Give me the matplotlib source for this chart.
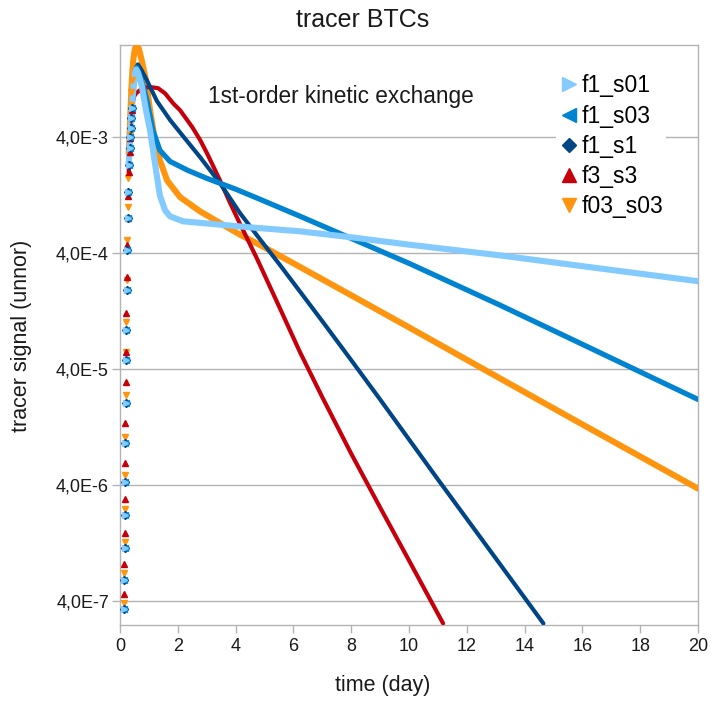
import matplotlib
matplotlib.use("Agg")
import matplotlib.pyplot as plt
import numpy as np

plt.rcParams['font.family'] = ['Liberation Sans', 'DejaVu Sans']

# early rising limb, shared by the three f1 runs
t_rise = [0.14, 0.15, 0.16, 0.17, 0.18, 0.19, 0.20, 0.21, 0.22, 0.23, 0.24,
          0.26, 0.28, 0.30, 0.33, 0.35, 0.37, 0.39, 0.41, 0.43, 0.46, 0.49]
f1_rise = [3.41e-7, 6.07e-7, 1.15e-6, 2.20e-6, 4.25e-6, 9.2e-6, 2.04e-5, 4.78e-5,
           8.67e-5, 1.92e-4, 4.25e-4, 8.0e-4, 1.34e-3, 2.30e-3, 3.21e-3, 4.0e-3,
           4.79e-3, 5.84e-3, 7.11e-3, 8.34e-3, 1.02e-2, 1.24e-2]

# f1_s01
t_s01 = [0.52, 0.56, 0.62, 0.75, 0.9, 1.04, 1.21, 1.38, 1.56, 1.73, 2.18, 3.1,
         4.5, 6.23, 8.0, 10.0, 13.15, 16.0, 20.0]
v_s01 = [1.45e-2, 1.54e-2, 1.45e-2, 1.12e-2, 6.84e-3, 4.59e-3, 2.39e-3, 1.26e-3,
         9.4e-4, 8.34e-4, 7.55e-4, 7.2e-4, 6.7e-4, 6.19e-4, 5.5e-4, 4.75e-4,
         3.84e-4, 3.1e-4, 2.30e-4]

# f1_s03
t_s03 = [0.52, 0.58, 0.65, 0.8, 0.93, 1.14, 1.38, 1.73, 2.34, 3.01, 4.0, 4.84,
         6.23, 8.0, 10.0, 13.15, 16.0, 20.0]
v_s03 = [1.48e-2, 1.60e-2, 1.45e-2, 1.12e-2, 8.34e-3, 4.59e-3, 3.09e-3, 2.48e-3,
         2.08e-3, 1.77e-3, 1.43e-3, 1.17e-3, 8.35e-4, 5.38e-4, 3.28e-4, 1.43e-4,
         6.57e-5, 2.2e-5]

# f1_s1
t_s1 = [0.52, 0.56, 0.62, 0.75, 0.93, 1.28, 1.73, 2.18, 2.77, 3.46, 4.15, 4.84,
        5.54, 6.23, 7.0, 8.0, 9.0, 11.0, 13.0, 14.65]
v_s1 = [1.43e-2, 1.60e-2, 1.70e-2, 1.51e-2, 1.24e-2, 8.2e-3, 5.65e-3, 4.1e-3,
        2.7e-3, 1.61e-3, 8.9e-4, 5.3e-4, 3.16e-4, 1.87e-4, 1.04e-4, 4.8e-5,
        2.2e-5, 4.5e-6, 9.4e-7, 2.58e-7]

# f3_s3
t_f3 = [0.14, 0.15, 0.16, 0.17, 0.18, 0.19, 0.20, 0.21, 0.22, 0.23, 0.24, 0.26,
        0.28, 0.30, 0.33, 0.35, 0.37, 0.39, 0.41, 0.43, 0.46, 0.49, 0.55, 0.69,
        0.94, 1.11, 1.32, 1.56, 1.84, 2.08, 2.5, 2.77, 3.0, 3.22, 3.46, 3.8,
        4.15, 4.74, 5.5, 6.23, 7.0, 8.0, 9.0, 10.0, 11.18]
v_f3 = [4.59e-7, 8.34e-7, 1.54e-6, 3.03e-6, 6.19e-6, 1.37e-5, 3.09e-5, 5.61e-5,
        1.22e-4, 2.48e-4, 4.69e-4, 8.0e-4, 1.26e-3, 2.0e-3, 2.97e-3, 3.97e-3,
        4.98e-3, 5.94e-3, 6.84e-3, 7.69e-3, 8.34e-3, 9.02e-3, 9.57e-3, 1.02e-2,
        1.08e-2, 1.08e-2, 1.06e-2, 9.57e-3, 7.85e-3, 6.84e-3, 4.9e-3, 3.8e-3,
        2.95e-3, 2.27e-3, 1.70e-3, 1.10e-3, 7.2e-4, 3.6e-4, 1.40e-4, 5.61e-5,
        2.30e-5, 7.5e-6, 2.58e-6, 9.0e-7, 2.58e-7]

# f03_s03
t_f03 = [0.14, 0.15, 0.16, 0.17, 0.18, 0.19, 0.20, 0.21, 0.22, 0.23, 0.24, 0.26,
         0.28, 0.30, 0.33, 0.35, 0.37, 0.39, 0.41, 0.43, 0.46, 0.49, 0.52, 0.58,
         0.65, 0.75, 0.9, 1.04, 1.21, 1.38, 1.63, 2.08, 2.77, 4.15, 5.0, 6.23,
         8.0, 10.0, 13.15, 16.0, 20.0]
v_f03 = [3.85e-7, 6.97e-7, 1.29e-6, 2.48e-6, 4.88e-6, 1.04e-5, 2.39e-5, 5.61e-5,
         1.02e-4, 2.34e-4, 5.18e-4, 9.97e-4, 1.77e-3, 2.91e-3, 4.16e-3, 5.61e-3,
         7.55e-3, 9.77e-3, 1.24e-2, 1.51e-2, 1.85e-2, 2.12e-2, 2.34e-2, 2.43e-2,
         2.34e-2, 1.85e-2, 1.24e-2, 6.84e-3, 3.77e-3, 2.54e-3, 1.70e-3, 1.22e-3,
         9.2e-4, 5.8e-4, 4.5e-4, 3.05e-4, 1.74e-4, 9.2e-5, 3.34e-5, 1.34e-5,
         3.75e-6]

names = ['f1_s01', 'f1_s03', 'f1_s1', 'f3_s3', 'f03_s03']
colors = ['#83caff', '#0084d1', '#004586', '#c5000b', '#ff950e']
markers = ['>', '<', 'D', '^', 'v']
widths = [4.4, 3.8, 3.0, 3.0, 4.4]

yticks = [4e-7, 4e-6, 4e-5, 4e-4, 4e-3]
ylabels = ['4,0E-7', '4,0E-6', '4,0E-5', '4,0E-4', '4,0E-3']
xticks = list(range(0, 21, 2))

series = [
    (t_rise + t_s01, f1_rise + v_s01),
    (t_rise + t_s03, f1_rise + v_s03),
    (t_rise + t_s1, f1_rise + v_s1),
    (t_f3, v_f3),
    (t_f03, v_f03),
]

fig = plt.figure(figsize=(7.12, 7.02), dpi=100)
ax = fig.add_axes([120 / 712, 1 - 625 / 702, 578 / 712, 580 / 702])

grid_c = '#b3b3b3'
handles = []
# draw in reverse so f1_s01 ends up on top
for i in reversed(range(5)):
    t, v = np.array(series[i][0]), np.array(series[i][1])
    dense = t >= 0.30
    ax.plot(t[dense], v[dense], color=colors[i], lw=widths[i],
            solid_capstyle='round', solid_joinstyle='round',
            zorder=3 + (5 - i) * 0.1)
    early = t < 0.42
    ax.plot(t[early], v[early], ls='none', marker=markers[i], ms=4.5,
            color=colors[i], zorder=3.5 + (5 - i) * 0.1)

for i in range(5):
    h, = ax.plot([], [], ls='none', marker=markers[i], color=colors[i],
                 ms=10.5 if markers[i] != 'D' else 7.5, label=names[i])
    handles.append(h)

ax.set_yscale('log')
ax.set_xlim(0, 20)
ax.set_ylim(2.5e-7, 2.5e-2)
ax.set_yticks(yticks)
ax.set_yticklabels(ylabels)
ax.yaxis.set_minor_locator(matplotlib.ticker.NullLocator())
ax.set_xticks(xticks)
ax.tick_params(axis='both', colors=grid_c, labelcolor='#1a1a1a', labelsize=13,
               length=6, width=1)
ax.tick_params(axis='y', pad=2)
ax.grid(axis='y', color=grid_c, lw=1)
ax.set_axisbelow(True)
for sp in ax.spines.values():
    sp.set_color(grid_c)
    sp.set_linewidth(1)

leg = ax.legend(handles=handles, loc='upper left',
                bbox_to_anchor=(556 / 712, 1 - 71 / 702), bbox_transform=fig.transFigure,
                frameon=True, fancybox=False, edgecolor='none', facecolor='white',
                framealpha=1, fontsize=16.5, handlelength=0.8, handletextpad=0.15,
                labelspacing=0.31, borderpad=0.15, borderaxespad=0)
leg.set_zorder(10)

fig.text(363 / 712, 1 - 20 / 702, 'tracer BTCs', ha='center', va='center',
         fontsize=18, color='#1a1a1a')
fig.text(383 / 712, 1 - 686 / 702, 'time (day)', ha='center', va='center',
         fontsize=15.5, color='#1a1a1a')
fig.text(22 / 712, 1 - 336 / 702, 'tracer signal (unnor)', ha='center', va='center',
         rotation=90, fontsize=15.5, color='#1a1a1a')
fig.text(208 / 712, 1 - 97 / 702, '1st-order kinetic exchange', ha='left', va='center',
         fontsize=16.3, color='#1a1a1a')

fig.savefig('out.png', dpi=100)
